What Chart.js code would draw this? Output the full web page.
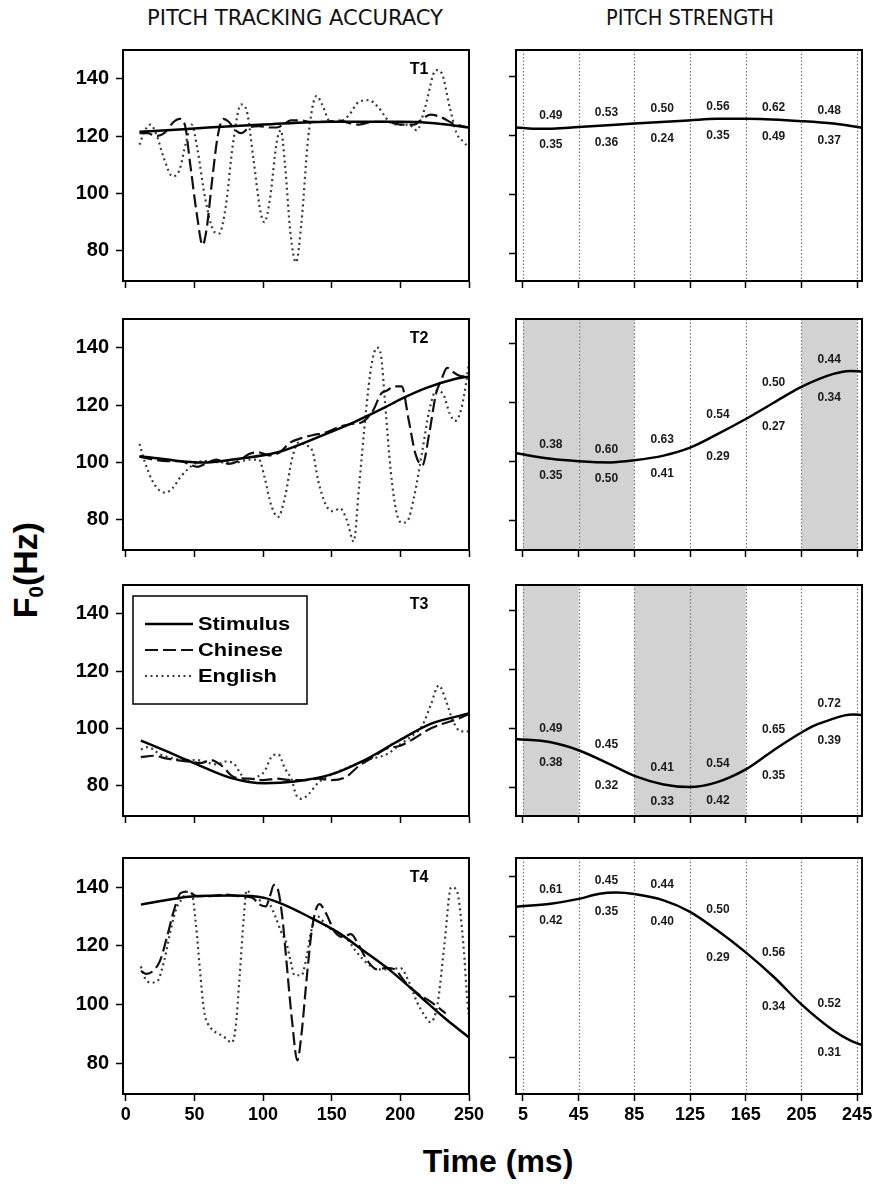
<!DOCTYPE html>
<html>
<head>
<meta charset="utf-8">
<script src="https://cdn.jsdelivr.net/npm/chart.js@4.4.1/dist/chart.umd.min.js"></script>
<style>
  body { margin: 0; background: #fff; width: 882px; height: 1186px; position: relative; overflow: hidden;
         font-family: 'Liberation Sans', Arial, sans-serif; }
  canvas { position: absolute; }
  .head { position: absolute; top: 6px; font-family: 'Liberation Sans Narrow', 'DejaVu Sans Condensed', sans-serif;
          font-size: 21px; white-space: nowrap; color: #111; transform-origin: 0 0; }
  #ytitle { position: absolute; left: 27px; top: 570px; transform: translate(-50%, -50%) rotate(-90deg);
            font-weight: bold; font-size: 34px; white-space: nowrap; color: #000; }
  #ytitle sub { font-size: 60%; vertical-align: -0.25em; }
  #xtitle { position: absolute; left: 498px; top: 1143px; transform: translateX(-50%);
            font-weight: bold; font-size: 32px; white-space: nowrap; color: #000; }
</style>
</head>
<body>
<div class="head" data-cx="295" data-w="296">PITCH TRACKING ACCURACY</div>
<div class="head" data-cx="690" data-w="168">PITCH STRENGTH</div>
<div id="ytitle">F<sub>0</sub>(Hz)</div>
<div id="xtitle">Time (ms)</div>

<script>
// ---- data (ms, Hz) ----
const Y_TICKS = [80, 100, 120, 140];
const LEFT_X_TICKS = [0, 50, 100, 150, 200, 250];
const SEGMENT_EDGES = [5, 45, 85, 125, 165, 205, 245];
const SERIES_NAMES = ['Stimulus', 'Chinese', 'English'];

// T1
const T1_STIMULUS = [[10,121.5],[30,122],[60,123],[100,124],[150,125],[200,125],[225,124.5],[250,123]];
const T1_CHINESE = [[10,121],[16,121],[22,120],[28,121],[35,125],[39,126],[43,124],[47,110],[52,92],[56,82],[59,88],
  [63,105],[67,120],[71,126],[75,125],[80,122],[84,121],[90,123],[97,123.5],[104,123],[110,123],[115,124],[120,125.5],
  [127,125.5],[134,125],[145,125],[155,125.5],[163,124.5],[170,124],[180,125],[190,125],[200,124],[210,124],[216,126],
  [222,127.5],[230,126.5],[238,124.5],[245,123.5],[250,123]];
const T1_ENGLISH = [[10,117],[14,122],[18,124],[22,121],[28,112],[34,106],[39,108],[44,118],[48,124],[52,116],[58,98],
  [64,87],[68,86],[73,96],[78,117],[84,131],[88,129],[93,112],[98,94],[101,90],[105,98],[110,118],[113,122],[116,110],
  [120,86],[124,76],[128,90],[133,120],[139,134],[143,131],[149,125],[155,125],[162,127],[170,132],[177,132.5],
  [184,130],[192,125],[200,124],[206,124],[212,122],[218,130],[226,143],[230,142],[236,130],[241,121],[246,118],[250,116]];

// T2
const T2_STIMULUS = [[10,102.2],[30,101],[56,100],[78,101],[110,103.5],[120,105],[146,110],[166,114],[188,119],
  [200,122],[219,126],[239,129],[250,130]];
const T2_CHINESE = [[10,102],[20,101],[30,100.5],[40,100.5],[48,99],[52,98.5],[58,99.5],[66,101],[75,99.5],[82,100.5],
  [90,103],[97,103.5],[104,102.5],[112,103.5],[120,107],[128,108.5],[136,109.5],[146,110.5],[156,112.5],[166,113.5],
  [172,114],[180,118],[186,124],[190,125],[196,126.5],[201,126.5],[206,115],[211,103],[216,99],[221,110],[226,124],
  [230,129],[234,133],[240,131],[245,130],[250,130.5]];
const T2_ENGLISH = [[10,106.5],[14,100],[19,94],[24,90.5],[29,89.5],[34,91],[40,95],[46,98],[52,100],[60,100.5],[70,100],
  [80,100],[90,101],[97,101],[101,95],[106,85],[111,81],[116,88],[121,101],[126,107],[131,106],[136,104],[140,94],
  [146,85],[151,83],[156,84],[161,80],[166,72.5],[170,92],[175,118],[179,134],[183,140],[186,137],[189,120],[193,97],
  [197,83],[201,79],[205,79.5],[210,88],[216,104],[221,118],[226,125],[231,124],[236,117],[240,114.5],[244,118],
  [248,128],[250,135]];

// T3
const T3_STIMULUS = [[11,95.8],[30,92],[48,88.3],[77,82.7],[101,80.9],[123,81.5],[149,83.9],[174,89],[198,95.5],
  [222,101.6],[250,105.2]];
const T3_CHINESE = [[11,90],[20,90.5],[30,89.5],[45,88.5],[55,88],[62,89],[70,87],[79,83],[90,82.5],[100,82],[110,82.5],
  [120,82],[130,82],[140,82.5],[150,82],[160,83],[170,87],[180,90],[190,93],[200,94],[210,96.5],[220,99.5],[230,101.5],
  [240,103],[250,105]];
const T3_ENGLISH = [[11,92.7],[16,93.5],[25,91],[35,89.5],[45,89],[52,89],[60,88],[67,87.5],[72,88.5],[78,88],[84,84],
  [88,81.5],[95,83],[101,85],[106,90],[111,91],[116,86],[121,82],[124,77],[128,75.5],[133,77],[140,81],[148,83.5],
  [160,86],[175,89],[190,91],[200,94.5],[210,98],[216,101],[222,108],[228,115],[233,110],[238,103],[244,99],[250,99]];

// T4
const T4_STIMULUS = [[11,134.1],[48,136.9],[77,137.2],[101,136.4],[115,134.1],[132,130.3],[154,124.8],[174,118.1],
  [193,111.5],[212,103.8],[232,95.5],[250,88.8]];
const T4_CHINESE = [[11,111.5],[15,110.5],[20,111.5],[25,115],[30,123],[35,132],[40,138],[45,138.5],[52,137],[62,137],
  [72,137.5],[82,137],[92,136.5],[98,134],[102,133.5],[105,137],[108,140.8],[111,139],[114,130],[117,115],[121,95],
  [125,81],[128,90],[132,110],[136,127],[141,134.3],[146,131],[152,125],[158,123],[164,124],[170,120],[176,115],
  [183,112],[190,112.5],[196,112],[203,108],[212,104],[222,101],[233,97]];
const T4_ENGLISH = [[11,113],[14,109],[18,107.5],[23,108],[28,115],[33,126],[37,133],[41,136],[45,138.5],[48,138],
  [51,128],[54,112],[57,98],[62,92],[68,90],[73,88.5],[77,87],[80,92],[83,110],[86,130],[88,139],[92,137],[96,135],
  [100,136.5],[104,135],[109,130],[113,125],[117,121],[120,115],[123,110],[128,110],[132,117],[135,125],[140,130],
  [146,127],[152,125],[160,123],[168,118],[176,114],[184,112],[192,112],[200,112.5],[206,108],[212,101],[218,96],
  [222,94],[227,100],[232,120],[237,140],[241,139],[246,120],[249,100],[250,96]];

// pitch strength panels: stimulus contour and the two values per 40 ms segment
const R1_STIMULUS = [[0,122.8],[17,122.3],[45,122.9],[85,124.1],[125,125.2],[144,125.7],[165,125.7],[205,124.9],[228,124.1],[248.5,122.7]];
const R2_STIMULUS = [[0,102.7],[25,100.8],[45,100],[68,99.6],[85,100.3],[106,101.9],[125,104.6],[144,109],[165,114.3],
  [185,119.8],[205,125.2],[228,129.6],[240,130.6],[248.5,130.4]];
const R3_STIMULUS = [[0,96.5],[25,95.4],[45,92.7],[68,87.8],[85,84],[106,81.1],[125,80.2],[144,81.8],[165,86.2],
  [185,92.7],[205,98.7],[215,101.2],[228,103.4],[236,104.5],[242,104.8],[248.5,104.6]];
const R4_STIMULUS = [[0,130],[25,131],[45,132.6],[60,134.3],[72,134.7],[85,134.2],[106,132.1],[125,128.3],[144,122.3],
  [165,114.8],[185,106.7],[205,97.5],[228,88.8],[240,85.5],[248.5,84]];

const T1_UPPER = [0.49, 0.53, 0.50, 0.56, 0.62, 0.48];
const T1_LOWER = [0.35, 0.36, 0.24, 0.35, 0.49, 0.37];
const T2_UPPER = [0.38, 0.60, 0.63, 0.54, 0.50, 0.44];
const T2_LOWER = [0.35, 0.50, 0.41, 0.29, 0.27, 0.34];
const T3_UPPER = [0.49, 0.45, 0.41, 0.54, 0.65, 0.72];
const T3_LOWER = [0.38, 0.32, 0.33, 0.42, 0.35, 0.39];
const T4_UPPER = [0.61, 0.45, 0.44, 0.50, 0.56, 0.52];
const T4_LOWER = [0.42, 0.35, 0.40, 0.29, 0.34, 0.31];

// segments (by start time) shaded grey
const T2_SHADED = [5, 45, 205];
const T3_SHADED = [5, 85, 125];

// ---- layout ----
const ROW_TOPS = [45, 314, 580, 853];
const PLOT_H = 241;
const PAD_TOP = 14, PAD_BOTTOM = 4;
const LEFT_Y_RANGE = [69.5, 150];
// the right-hand panels sit a little offset against their own ticks in the figure
const RIGHT_Y_RANGES = [[70.8, 149], [69.9, 148.2], [70.4, 148.7], [67.7, 146.2]];
const COLS = {
  left:  { x: 60,  w: 440, axisW: 63, padRight: 31, min: -2, max: 250, ticks: LEFT_X_TICKS },
  right: { x: 490, w: 392, axisW: 26, padRight: 20, min: 0,  max: 248.5, ticks: SEGMENT_EDGES }
};
const FONT = "'Liberation Sans', Arial, sans-serif";

const decor = {};

function toXY(arr) { return arr.map(([x, y]) => ({ x, y })); }

function curveAt(points, x) {
  for (let i = 1; i < points.length; i++) {
    if (x <= points[i][0]) {
      const [x0, y0] = points[i - 1], [x1, y1] = points[i];
      return y0 + (y1 - y0) * (x - x0) / (x1 - x0);
    }
  }
  return points[points.length - 1][1];
}

const panelDecor = {
  id: 'panelDecor',
  beforeDatasetsDraw(chart) {
    const d = decor[chart.canvas.id];
    if (!d || !d.strength) return;
    const { ctx, chartArea: a, scales: { x } } = chart;
    ctx.save();
    ctx.fillStyle = '#d2d2d2';
    d.shaded.forEach(s => {
      const x0 = x.getPixelForValue(s), x1 = x.getPixelForValue(s + 40);
      ctx.fillRect(x0, a.top, x1 - x0, a.bottom - a.top);
    });
    ctx.strokeStyle = '#7a7a7a';
    ctx.lineWidth = 1.2;
    ctx.setLineDash([1.5, 2]);
    SEGMENT_EDGES.forEach(v => {
      const px = Math.round(x.getPixelForValue(v)) + 0.5;
      ctx.beginPath();
      ctx.moveTo(px, a.top);
      ctx.lineTo(px, a.bottom);
      ctx.stroke();
    });
    ctx.restore();
  },
  afterDatasetsDraw(chart) {
    const d = decor[chart.canvas.id];
    const { ctx, chartArea: a, scales: { x, y } } = chart;
    ctx.save();
    ctx.strokeStyle = '#000';
    ctx.lineWidth = 2;
    ctx.setLineDash([]);
    ctx.strokeRect(a.left, a.top, a.right - a.left, a.bottom - a.top);

    if (d && d.strength) {
      ctx.fillStyle = '#1a1a1a';
      ctx.font = 'bold 12px ' + FONT;
      ctx.textAlign = 'center';
      ctx.textBaseline = 'middle';
      d.strength.upper.forEach((v, i) => {
        const c = SEGMENT_EDGES[i] + 20;
        const ys = [c - 10, c, c + 10].map(t => y.getPixelForValue(curveAt(d.stim, t)));
        const px = x.getPixelForValue(c);
        ctx.fillText(v.toFixed(2), px, Math.min(...ys) - 12);
        ctx.fillText(d.strength.lower[i].toFixed(2), px, Math.max(...ys) + 16);
      });
    }
    if (d && d.tag) {
      ctx.fillStyle = '#000';
      ctx.font = 'bold 16px ' + FONT;
      ctx.textAlign = 'center';
      ctx.textBaseline = 'middle';
      ctx.fillText(d.tag, a.right - 50, a.top + 20);
    }
    if (d && d.legend) {
      const bx = a.left + 10, by = a.top + 11;
      ctx.fillStyle = '#fff';
      ctx.fillRect(bx, by, 174, 108);
      ctx.lineWidth = 1.5;
      ctx.strokeRect(bx, by, 174, 108);
      chart.data.datasets.forEach((ds, i) => {
        const ly = by + 28 + 26 * i;
        ctx.strokeStyle = ds.borderColor;
        ctx.lineWidth = ds.borderWidth;
        ctx.setLineDash(ds.borderDash || []);
        ctx.beginPath();
        ctx.moveTo(bx + 12, ly);
        ctx.lineTo(bx + 60, ly);
        ctx.stroke();
        ctx.save();
        ctx.translate(bx + 65, ly);
        ctx.scale(1.15, 1);
        ctx.fillStyle = '#000';
        ctx.font = 'bold 19px ' + FONT;
        ctx.textAlign = 'left';
        ctx.textBaseline = 'middle';
        ctx.fillText(ds.label, 0, 1);
        ctx.restore();
      });
    }
    ctx.restore();
  }
};

function makeChart(id, colName, row, datasets) {
  const col = COLS[colName];
  const bottomRow = row === 3;
  const xAxisH = bottomRow ? 42 : 10;
  const yRange = colName === 'left' ? LEFT_Y_RANGE : RIGHT_Y_RANGES[row];
  const canvas = document.createElement('canvas');
  canvas.id = id;
  canvas.width = col.w;
  canvas.height = PAD_TOP + PLOT_H + xAxisH + PAD_BOTTOM;
  canvas.style.left = col.x + 'px';
  canvas.style.top = (ROW_TOPS[row] - PAD_TOP) + 'px';
  document.body.appendChild(canvas);

  const gridOpts = { drawOnChartArea: false, drawTicks: true, tickLength: 7, tickColor: '#000', tickWidth: 1.5 };
  const borderOpts = { display: true, color: '#000', width: 2 };

  return new Chart(canvas.getContext('2d'), {
    type: 'line',
    data: { datasets },
    options: {
      responsive: false,
      animation: false,
      events: [],
      layout: { padding: { top: PAD_TOP, right: col.padRight, bottom: PAD_BOTTOM, left: 0 } },
      plugins: { legend: { display: false }, tooltip: { enabled: false } },
      elements: { point: { radius: 0 } },
      scales: {
        x: {
          type: 'linear', min: col.min, max: col.max,
          afterBuildTicks: s => { s.ticks = col.ticks.map(v => ({ value: v })); },
          afterFit: s => { s.height = xAxisH; },
          ticks: { color: bottomRow ? '#000' : 'rgba(0,0,0,0)', autoSkip: false, maxRotation: 0, padding: 3,
                   font: { family: FONT, size: 18, weight: 'bold' } },
          grid: gridOpts, border: borderOpts
        },
        y: {
          type: 'linear', min: yRange[0], max: yRange[1],
          afterBuildTicks: s => { s.ticks = Y_TICKS.map(v => ({ value: v })); },
          afterFit: s => { s.width = col.axisW; },
          ticks: { color: colName === 'left' ? '#000' : 'rgba(0,0,0,0)', padding: 7,
                   font: { family: FONT, size: 20, weight: 'bold' } },
          grid: gridOpts, border: borderOpts
        }
      }
    },
    plugins: [panelDecor]
  });
}

function trackingSets(stim, chinese, english) {
  return [
    { label: SERIES_NAMES[0], data: toXY(stim), borderColor: '#000', borderWidth: 2.5,
      cubicInterpolationMode: 'monotone', fill: false },
    { label: SERIES_NAMES[1], data: toXY(chinese), borderColor: '#111', borderWidth: 2.2, borderDash: [13, 5],
      cubicInterpolationMode: 'monotone', fill: false },
    { label: SERIES_NAMES[2], data: toXY(english), borderColor: '#3a3a3a', borderWidth: 2.2, borderDash: [2, 3.5],
      cubicInterpolationMode: 'monotone', fill: false }
  ];
}

function strengthSets(stim) {
  return [{ label: SERIES_NAMES[0], data: toXY(stim), borderColor: '#000', borderWidth: 2.5,
            cubicInterpolationMode: 'monotone', fill: false }];
}

decor.l1 = { tag: 'T1' };
decor.l2 = { tag: 'T2' };
decor.l3 = { tag: 'T3', legend: true };
decor.l4 = { tag: 'T4' };
decor.r1 = { stim: R1_STIMULUS, shaded: [], strength: { upper: T1_UPPER, lower: T1_LOWER } };
decor.r2 = { stim: R2_STIMULUS, shaded: T2_SHADED, strength: { upper: T2_UPPER, lower: T2_LOWER } };
decor.r3 = { stim: R3_STIMULUS, shaded: T3_SHADED, strength: { upper: T3_UPPER, lower: T3_LOWER } };
decor.r4 = { stim: R4_STIMULUS, shaded: [], strength: { upper: T4_UPPER, lower: T4_LOWER } };

makeChart('l1', 'left', 0, trackingSets(T1_STIMULUS, T1_CHINESE, T1_ENGLISH));
makeChart('l2', 'left', 1, trackingSets(T2_STIMULUS, T2_CHINESE, T2_ENGLISH));
makeChart('l3', 'left', 2, trackingSets(T3_STIMULUS, T3_CHINESE, T3_ENGLISH));
makeChart('l4', 'left', 3, trackingSets(T4_STIMULUS, T4_CHINESE, T4_ENGLISH));
makeChart('r1', 'right', 0, strengthSets(R1_STIMULUS));
makeChart('r2', 'right', 1, strengthSets(R2_STIMULUS));
makeChart('r3', 'right', 2, strengthSets(R3_STIMULUS));
makeChart('r4', 'right', 3, strengthSets(R4_STIMULUS));

// fit the column headings to their width in the figure
document.querySelectorAll('.head').forEach(el => {
  const w = el.getBoundingClientRect().width;
  const target = +el.dataset.w;
  el.style.left = (+el.dataset.cx - target / 2) + 'px';
  el.style.transform = 'scaleX(' + (target / w) + ')';
});
</script>
</body>
</html>
